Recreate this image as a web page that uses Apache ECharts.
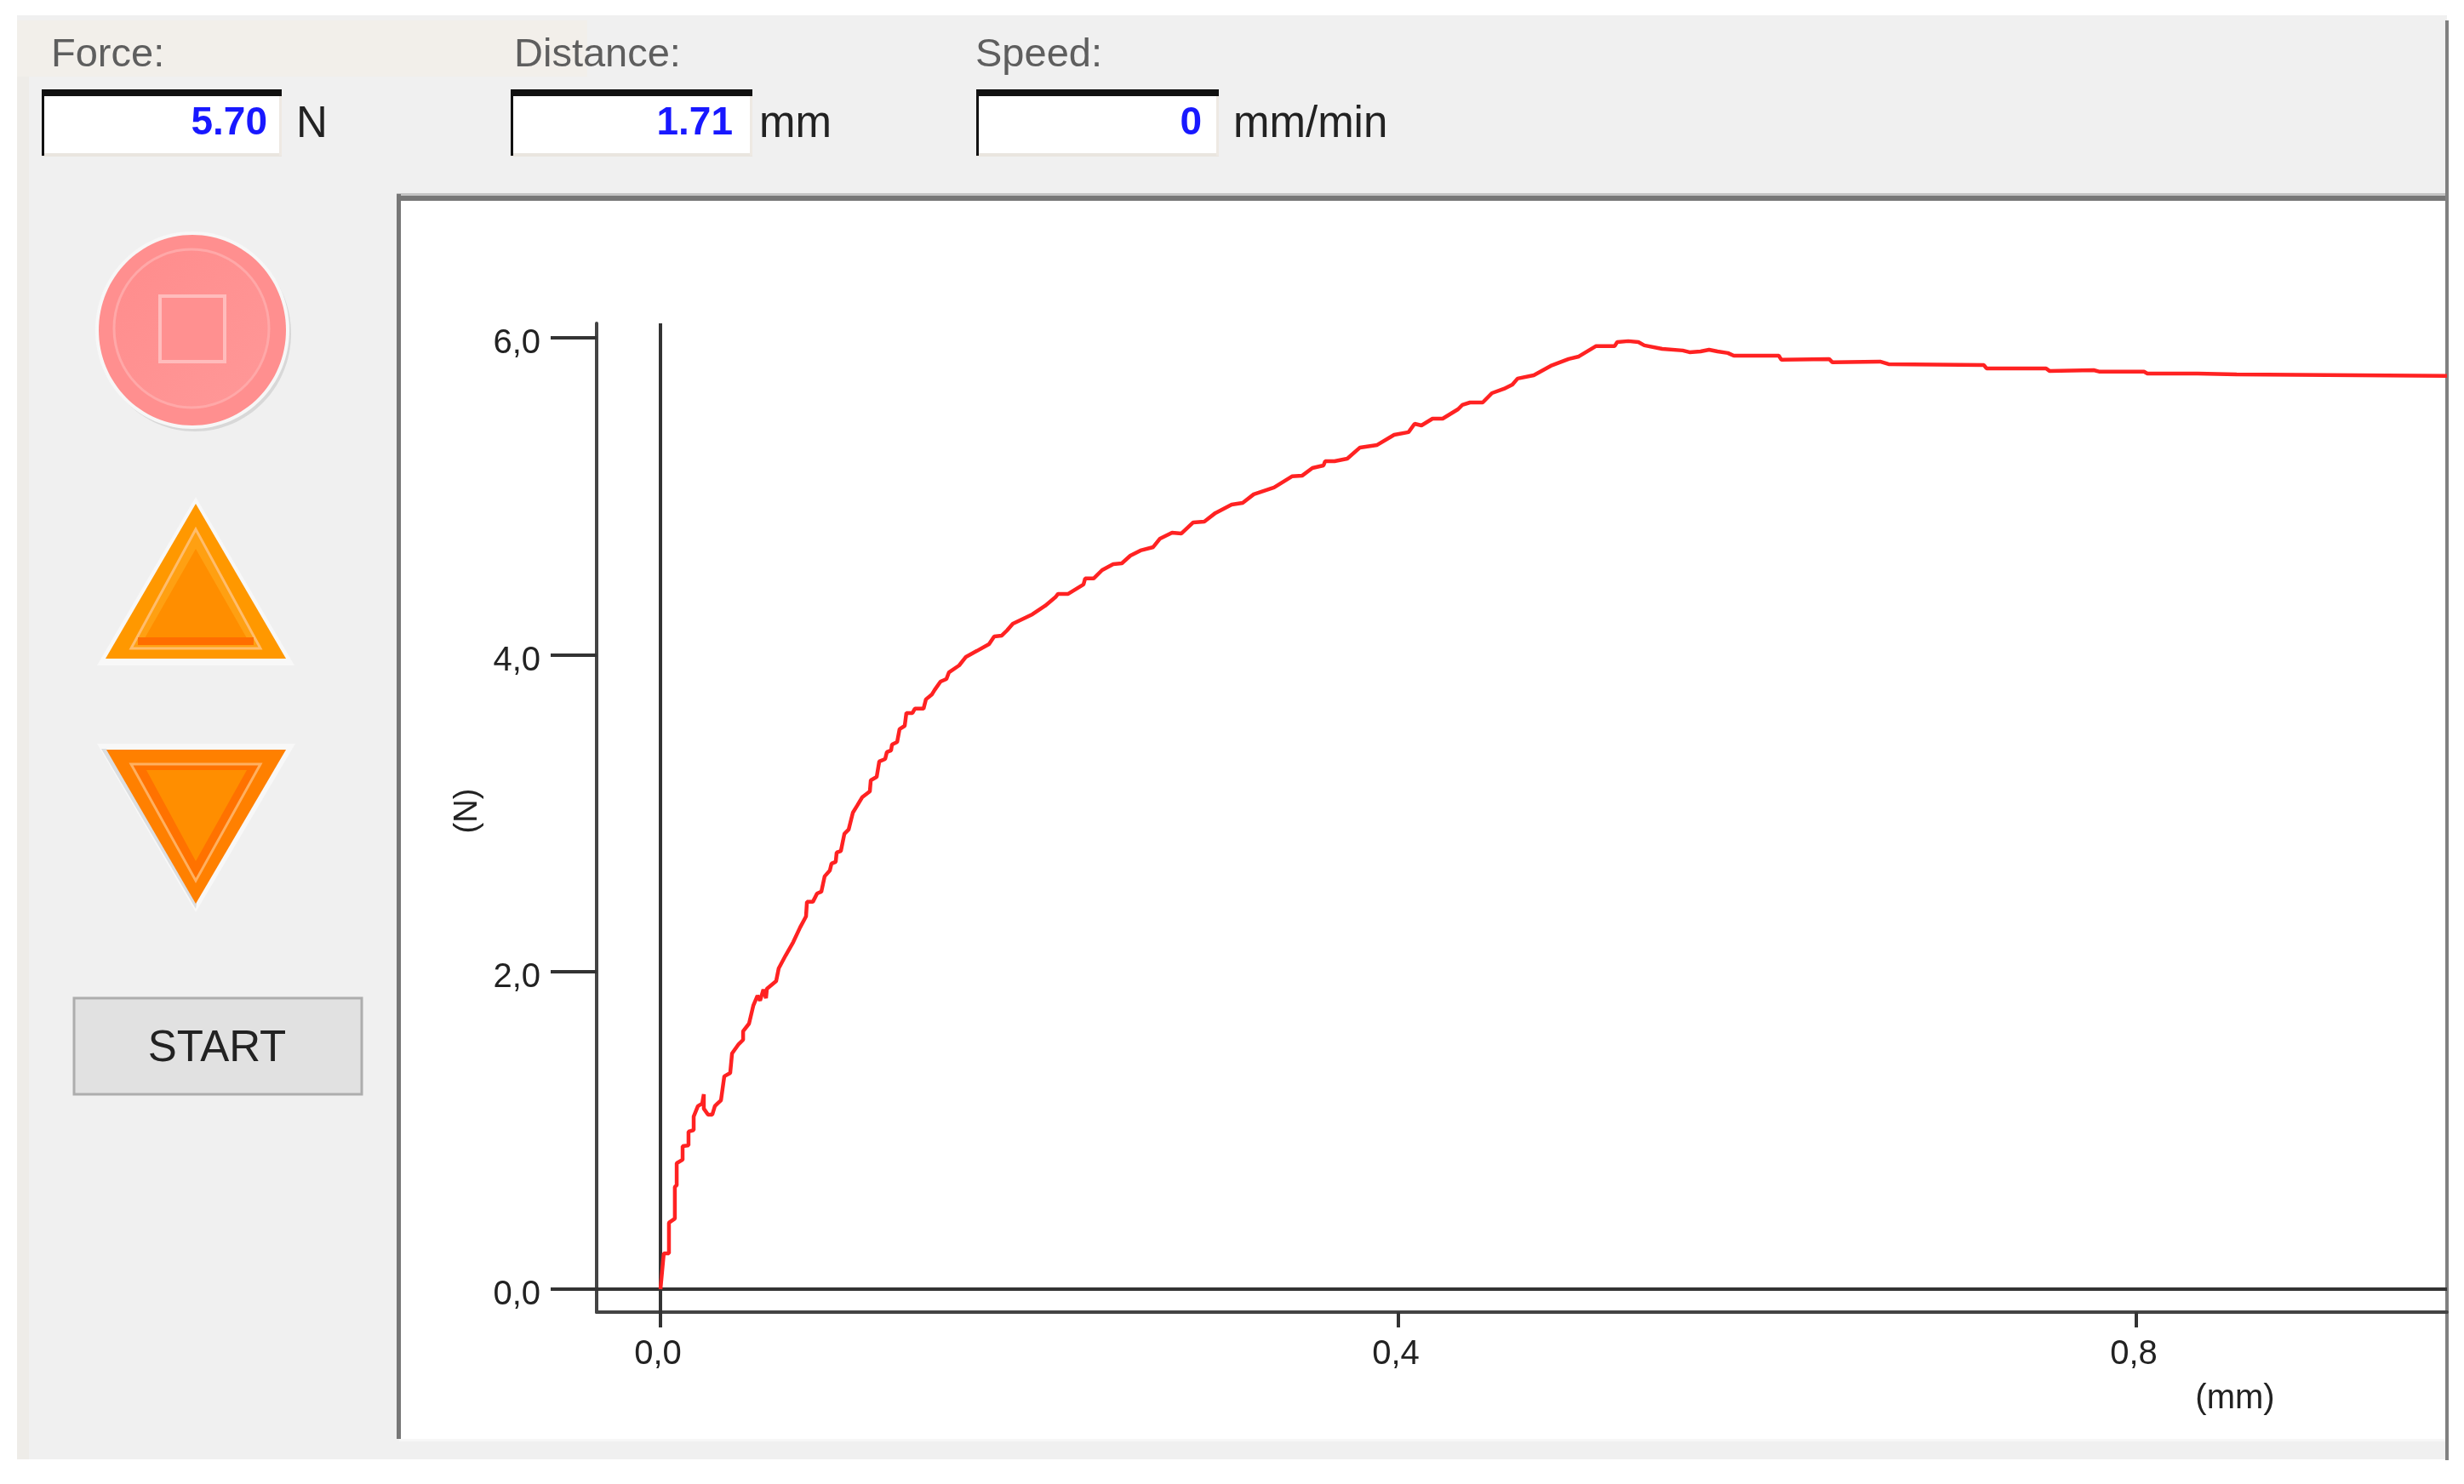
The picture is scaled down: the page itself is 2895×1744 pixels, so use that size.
<!DOCTYPE html>
<html>
<head>
<meta charset="utf-8">
<title>Force distance</title>
<script src="https://cdn.jsdelivr.net/npm/echarts@6/dist/echarts.min.js"></script>
<style>
  html, body { margin: 0; padding: 0; background: #fff; }
  #chart { width: 2895px; height: 1744px; }
</style>
</head>
<body>
<div id="chart"></div>
<script>
// force (N) against distance (mm)
const distance = [0, .0009, .0018, .0046, .0046, .0078, .0078, .0088, .0088, .0120, .0120, .0152, .0152, .0180, .0180, .0203, .0226, .0235, .0235, .0258,
  .0281, .0295, .0309, .0328, .0346, .0378, .0388, .0424, .0448, .0448, .0480, .0503, .0526, .0540, .0558, .0572, .0577, .0627, .0641, .0678,
  .0720, .0757, .0789, .0794, .0826, .0849, .0872, .0890, .0918, .0927, .0950, .0955, .0978, .0997, .1020, .1043, .1066, .1093, .1135, .1140,
  .1172, .1186, .1218, .1227, .1250, .1255, .1283, .1296, .1324, .1333, .1366, .1379, .1426, .1439, .1472, .1486, .1518, .1550, .1564, .1619,
  .1656, .1716, .1781, .1809, .1850, .1878, .1910, .2016, .2085, .2141, .2155, .2210, .2293, .2302, .2348, .2394, .2454, .2501, .2547, .2602,
  .2671, .2708, .2773, .2824, .2888, .2948, .3008, .3096, .3156, .3216, .3326, .3423, .3479, .3534, .3594, .3603, .3654, .3723, .3792, .3885,
  .3977, .4055, .4088, .4125, .4185, .4240, .4323, .4346, .4388, .4457, .4507, .4572, .4618, .4646, .4734, .4826, .4923, .4978, .5070, .5172,
  .5186, .5246, .5301, .5333, .5430, .5541, .5578, .5638, .5684, .5730, .5786, .5818, .6062, .6076, .6335, .6353, .6611, .6657, .7174, .7188,
  .7511, .7529, .7769, .7802, .8042, .8060, .8332, .8544, .8544, .9684];
const force = [0, 0, .225, .225, .419, .445, .644, .655, .794, .816, .901, .907, .993, 1.003, 1.089, 1.154, 1.170, 1.229, 1.138, 1.100,
  1.100, 1.154, 1.170, 1.191, 1.342, 1.363, 1.486, 1.545, 1.572, 1.626, 1.674, 1.787, 1.851, 1.819, 1.889, 1.835, 1.894, 1.942, 2.023, 2.103,
  2.189, 2.281, 2.350, 2.442, 2.442, 2.495, 2.506, 2.603, 2.640, 2.683, 2.694, 2.753, 2.763, 2.871, 2.898, 3.005, 3.048, 3.101, 3.139, 3.209,
  3.230, 3.327, 3.343, 3.386, 3.397, 3.434, 3.450, 3.531, 3.552, 3.633, 3.633, 3.660, 3.660, 3.719, 3.751, 3.778, 3.831, 3.847, 3.890, 3.933,
  3.987, 4.025, 4.067, 4.116, 4.121, 4.153, 4.196, 4.255, 4.309, 4.363, 4.384, 4.384, 4.443, 4.481, 4.481, 4.534, 4.572, 4.577, 4.625, 4.658,
  4.679, 4.733, 4.770, 4.765, 4.835, 4.840, 4.894, 4.947, 4.958, 5.012, 5.055, 5.125, 5.130, 5.178, 5.194, 5.221, 5.221, 5.237, 5.307, 5.323,
  5.387, 5.404, 5.457, 5.446, 5.489, 5.489, 5.548, 5.575, 5.591, 5.591, 5.650, 5.677, 5.704, 5.742, 5.763, 5.822, 5.865, 5.881, 5.946, 5.946,
  5.972, 5.978, 5.972, 5.951, 5.929, 5.919, 5.908, 5.913, 5.924, 5.913, 5.903, 5.886, 5.886, 5.860, 5.865, 5.844, 5.849, 5.833, 5.827, 5.806,
  5.806, 5.790, 5.795, 5.785, 5.785, 5.774, 5.774, 5.768, 5.758, 5.758];
const xTicks = [0, 0.4, 0.8];
const yTicks = [0, 2, 4, 6];
const xRange = [-0.0346, 0.9684];
const yRange = [-0.145, 6.09];
const readings = ['5.70', '1.71', '0'];
const readingNames = ['Force:', 'Distance:', 'Speed:'];
const readingUnits = ['N', 'mm', 'mm/min'];

const FONT = '"Liberation Sans", Arial, sans-serif';
const comma = v => v.toFixed(1).replace('.', ',');

// little helpers for the window around the plot
const rect = (x, y, width, height, style) => ({ type: 'rect', z: -1, shape: { x, y, width, height }, style });
const poly = (points, style) => ({ type: 'polygon', z: -1, shape: { points }, style });
const oval = (cx, cy, rx, ry, style) => ({ type: 'ellipse', z: -1, shape: { cx, cy, rx, ry }, style });
const label = (text, x, y, font, fill, textAlign) => ({
  type: 'text', z: -1,
  style: { text, x, y, font: font + ' ' + FONT, fill, textAlign: textAlign || 'left', textVerticalAlign: 'middle' }
});

const boxes = [[49, 331], [600, 884], [1147, 1432]];
const nameX = [60, 604, 1146];
const valueX = [314, 861, 1412];
const unitX = [348, 892, 1449];

const windowParts = [
  rect(20, 18, 2855, 1697, { fill: '#f0f0f0' }),
  rect(20, 24, 670, 66, { fill: '#f2efea' }),
  rect(20, 90, 14, 1625, { fill: '#eeece8' }),
  // plot frame
  rect(469, 232, 2406, 1459, { fill: '#fff' }),
  rect(466, 228, 2409, 8, { fill: '#777' }),
  rect(466, 227, 2409, 3, { fill: '#c4c4c4' }),
  rect(466, 228, 5, 1463, { fill: '#777' }),
  rect(469, 1691, 2406, 3, { fill: '#f7f7f7' }),
  rect(2873, 24, 4, 1692, { fill: '#808080' }),
  // stop button
  oval(229, 392, 113, 115, { fill: '#d8d8d8' }),
  oval(226, 388, 114, 116, { fill: '#f7f7f7' }),
  oval(226, 388, 110, 112, { fill: '#ff8f8f' }),
  oval(225, 386, 91, 93, {
    fill: { type: 'linear', x: 0, y: 0, x2: 1, y2: 1, colorStops: [{ offset: 0, color: '#ff8c8c' }, { offset: 1, color: '#ff9898' }] },
    stroke: '#ffa8a8', lineWidth: 3
  }),
  rect(188, 348, 76, 77, { fill: '#ff9090', stroke: '#ffbcbc', lineWidth: 4 }),
  // up arrow
  poly([[230, 584], [346, 782], [114, 782]], { fill: '#f8f8f8' }),
  poly([[230, 592], [336, 774], [124, 774]], { fill: '#ff9800' }),
  poly([[230, 622], [306, 762], [154, 762]], { fill: '#ffa012', stroke: '#ffbd6c', lineWidth: 3 }),
  poly([[230, 645], [290, 750], [170, 750]], { fill: '#ff8e00' }),
  rect(162, 749, 136, 9, { fill: '#ff6e00' }),
  // down arrow
  poly([[114, 874], [347, 874], [230, 1072]], { fill: '#f8f8f8' }),
  poly([[119, 880], [125, 880], [231, 1062], [230, 1068]], { fill: '#dcdee0' }),
  poly([[125, 881], [336, 881], [230, 1062]], { fill: '#ff8000' }),
  poly([[154, 898], [306, 898], [230, 1035]], { fill: '#ff7200', stroke: '#ffb060', lineWidth: 3 }),
  poly([[172, 905], [290, 905], [230, 1012]], { fill: '#ff8e00' }),
  // start button
  rect(87, 1173, 338, 113, { fill: '#e1e1e1', stroke: '#adadad', lineWidth: 3 }),
  label('START', 255, 1233, '51px', '#222', 'center')
];

// the three read-outs at the top
readings.forEach((value, i) => {
  const [left, right] = boxes[i];
  windowParts.push(
    label(readingNames[i], nameX[i], 65, '47px', '#5e5e5e'),
    rect(left, 105, right - left, 78, { fill: '#fff' }),
    rect(left, 180, right - left, 4, { fill: '#e9e5df' }),
    rect(right - 3, 110, 3, 73, { fill: '#eee9e3' }),
    rect(left, 105, right - left, 8, { fill: '#111' }),
    rect(left, 105, 3, 78, { fill: '#111' }),
    label(value, valueX[i], 145, 'bold 46px', '#1818ff', 'right'),
    label(readingUnits[i], unitX[i], 147, '51px', '#222')
  );
});

const chart = echarts.init(document.getElementById('chart'));
chart.setOption({
  animation: false,
  backgroundColor: '#fff',
  graphic: { elements: windowParts },
  grid: { left: 701, top: 380, width: 2174, height: 1162, containLabel: false },
  xAxis: {
    type: 'value',
    min: xRange[0],
    max: xRange[1],
    name: '(mm)',
    nameLocation: 'middle',
    nameGap: 82,
    nameTextStyle: { fontFamily: FONT, fontSize: 40, color: '#222', padding: [0, 0, 0, 1676] },
    axisLine: { show: true, onZero: false, lineStyle: { color: '#444', width: 4 } },
    axisTick: { show: true, customValues: xTicks, length: 18, lineStyle: { color: '#333', width: 4 } },
    axisLabel: { show: true, customValues: xTicks, formatter: comma, margin: 30, padding: [0, 6, 0, 0], color: '#222', fontFamily: FONT, fontSize: 40 },
    splitLine: { show: false }
  },
  yAxis: {
    type: 'value',
    min: yRange[0],
    max: yRange[1],
    name: '(N)',
    nameLocation: 'middle',
    nameGap: 119,
    nameTextStyle: { fontFamily: FONT, fontSize: 38, color: '#222', padding: [0, 0, 0, 16] },
    axisLine: { show: true, onZero: false, lineStyle: { color: '#444', width: 4 } },
    axisTick: { show: true, customValues: yTicks, length: 54, lineStyle: { color: '#333', width: 4 } },
    axisLabel: { show: true, customValues: yTicks, formatter: comma, margin: 66, verticalAlign: 'top', lineHeight: 14, color: '#222', fontFamily: FONT, fontSize: 40 },
    splitLine: { show: false }
  },
  series: [
    {
      name: 'x = 0',
      type: 'line',
      showSymbol: false,
      silent: true,
      data: [[0, yRange[0]], [0, yRange[1]]],
      lineStyle: { color: '#333', width: 4 }
    },
    {
      name: 'y = 0',
      type: 'line',
      showSymbol: false,
      silent: true,
      data: [[xRange[0], 0], [xRange[1], 0]],
      lineStyle: { color: '#333', width: 4 }
    },
    {
      name: 'Force',
      type: 'line',
      showSymbol: false,
      silent: true,
      z: 5,
      data: distance.map((d, i) => [d, force[i]]),
      lineStyle: { color: '#ff2222', width: 4.5 }
    }
  ]
});
</script>
</body>
</html>
